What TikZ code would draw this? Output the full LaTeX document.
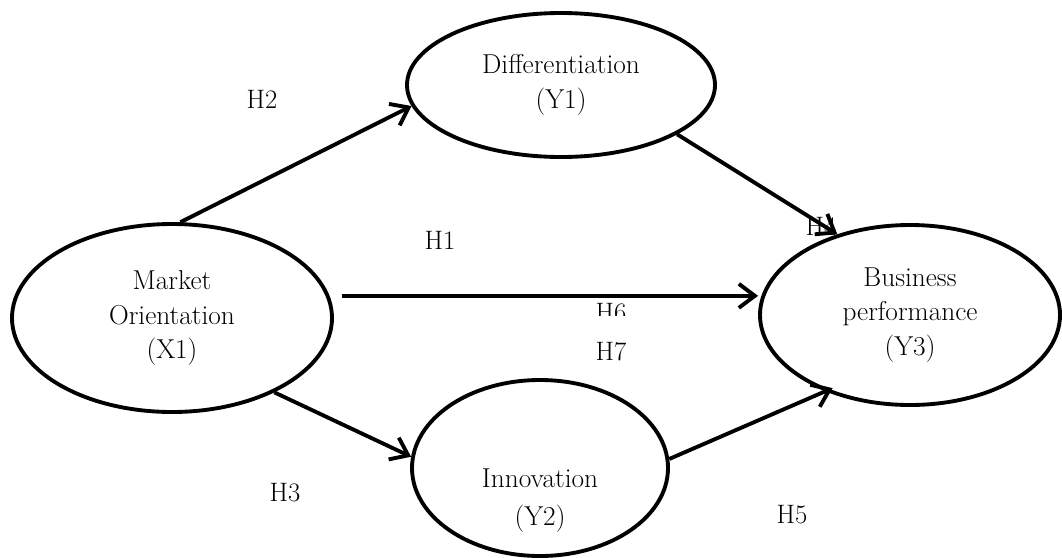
\documentclass[tikz,border=0pt]{standalone}
\usetikzlibrary{shapes,arrows.meta,calc}
\begin{document}
\begin{tikzpicture}[x=0.75pt,y=-0.75pt,line width=2.9pt]
\tikzstyle{var}=[ellipse,draw,align=center,inner sep=0pt,font=\fontsize{20.5}{26}\selectfont]
\tikzstyle{hyp}=[inner sep=0pt,font=\fontsize{20}{24}\selectfont]
\tikzstyle{link}=[-{Straight Barb[length=12pt,width=18pt]}]
\useasboundingbox (0,0) rectangle (1062,557);

% constructs
\node [var,minimum width=240pt,minimum height=141pt] (mo) at (172,318) {Market\\Orientation\\(X1)};
\node [var,minimum width=231pt,minimum height=108pt] (dif) at (561,85) {Differentiation\\(Y1)};
\node [var,minimum width=225pt,minimum height=135pt] (bp) at (910,315) {Business\\performance\\(Y3)};
\node [var,minimum width=192pt,minimum height=132pt] (inn) at (540,468) {};
\node [align=center,inner sep=0pt,font=\fontsize{20.5}{28.5}\selectfont] (inn-txt) at (540,501) {Innovation\\(Y2)};

% hypotheses
\node [hyp] (h1) at (440,240) {H1};
\node [hyp] (h2) at (262,99) {H2};
\node [hyp] (h3) at (285,493) {H3};
\node [hyp] (h4) at (821,226) {H4};
\node [hyp] (h5) at (792,515) {H5};
\begin{scope}
  \clip (580,298) rectangle (645,315);
  \node [hyp] (h6) at (611,313) {H6};
\end{scope}
\node [hyp] (h7) at (611,352) {H7};

% paths
\draw [link] (mo.85) -- (dif.188);
\draw [link] ([xshift=9pt]mo.8) -- (mo.8 -| bp.west);
\draw [link] (mo.-36) -- (inn.175);
\draw [link] (dif.-23) -- (bp.132);
\draw [link,shorten >=-6pt] (inn.4) -- (bp.222);
\end{tikzpicture}
\end{document}
